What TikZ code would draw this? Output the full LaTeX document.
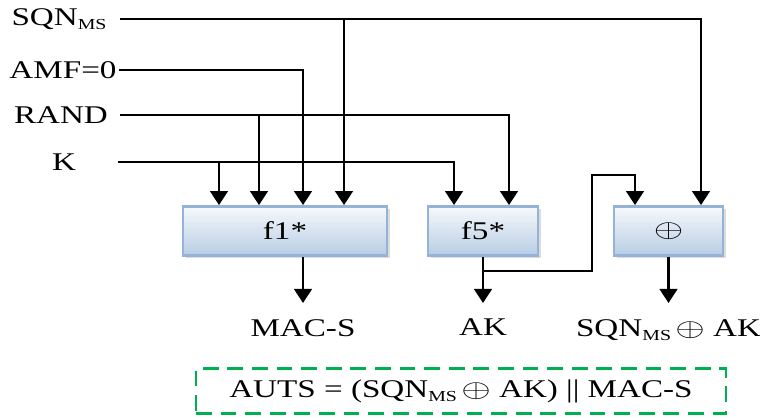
\documentclass[tikz,border=0pt]{standalone}
\usepackage{graphicx}
\usepackage{fontspec}
\setmainfont{Liberation Serif}[FakeStretch=1.3]
\usetikzlibrary{arrows.meta,shadows}

\definecolor{boxedge}{RGB}{149,179,215}
\definecolor{boxtop}{RGB}{246,249,252}
\definecolor{boxbot}{RGB}{184,204,228}
\definecolor{autsgreen}{RGB}{0,176,80}

\newcommand{\sqnms}{SQN\raisebox{-0.35ex}{\fontsize{8.7}{9}\selectfont MS}}
\newcommand{\xorop}{\scalebox{1.5}[1.0]{$\oplus$}}

\tikzset{
  wire/.style={line width=1.6pt},
  arr/.style={wire, -{Triangle[width=10pt,length=8pt]}},
  fbox/.style={draw=boxedge, line width=1.6pt, top color=boxtop, bottom color=boxbot,
    minimum height=0.98cm, drop shadow={shadow xshift=1.6pt, shadow yshift=-1.6pt, fill=gray!55}},
  outlbl/.style={anchor=north, inner xsep=2pt, inner ysep=9pt},
  autsbox/.style={draw=autsgreen, line width=1.4pt, dash pattern=on 9pt off 5pt,
    minimum width=10.6cm, minimum height=0.9cm}
}

\begin{document}
\begin{tikzpicture}[x=0.02cm, y=-0.02cm, font=\fontsize{14.5}{17}\selectfont]
    \useasboundingbox (0,0) rectangle (760,417);

    % Inputs on the left
    \node (sqn) at (59,19) {\sqnms};
    \node (amf) at (63,70) {AMF=0};
    \node (rand) at (61,115) {RAND};
    \node (k) at (64,162) {K};
    \coordinate (sqnin) at (120,19);
    \coordinate (amfin) at (119,70);
    \coordinate (randin) at (120,115);
    \coordinate (kin) at (118,162);

    % Function boxes
    \node[fbox, minimum width=4.08cm] (f1) at (285,231) {f1*};
    \node[fbox, minimum width=2.2cm] (f5) at (483,231) {f5*};
    \node[fbox, minimum width=2.18cm] (xor) at (668.5,231) {\xorop};

    % Input rails into the boxes
    \draw[arr] (sqnin) -| (xor.north -| 701,0);
    \draw[arr] (sqnin -| 344,0) -- (f1.north -| 344,0);
    \draw[arr] (amfin) -| (f1.north -| 303,0);
    \draw[arr] (randin) -| (f5.north -| 509,0);
    \draw[arr] (randin -| 259,0) -- (f1.north -| 259,0);
    \draw[arr] (kin) -| (f5.north -| 454,0);
    \draw[arr] (kin -| 219,0) -- (f1.north -| 219,0);

    % Outputs
    \node[outlbl] (macs) at (303,303) {MAC-S};
    \node[outlbl] (ak) at (483,303) {AK};
    \node[outlbl] (sqnak) at (668.5,303) {\sqnms\,\xorop\ AK};
    \draw[arr] (f1.south -| macs) -- (macs.north);
    \draw[arr] (f5) -- (ak);
    \draw[arr] (xor) -- (sqnak);

    % AK fed back into the xor box
    \coordinate (akfork) at (0,271 -| f5.south);
    \draw[arr] (akfork) -| (592,175) -| (xor.north -| 635,0);

    % Result
    \node[autsbox] (auts) at (461,391) {AUTS = (\sqnms\,\xorop\ AK) || MAC-S};
\end{tikzpicture}
\end{document}
